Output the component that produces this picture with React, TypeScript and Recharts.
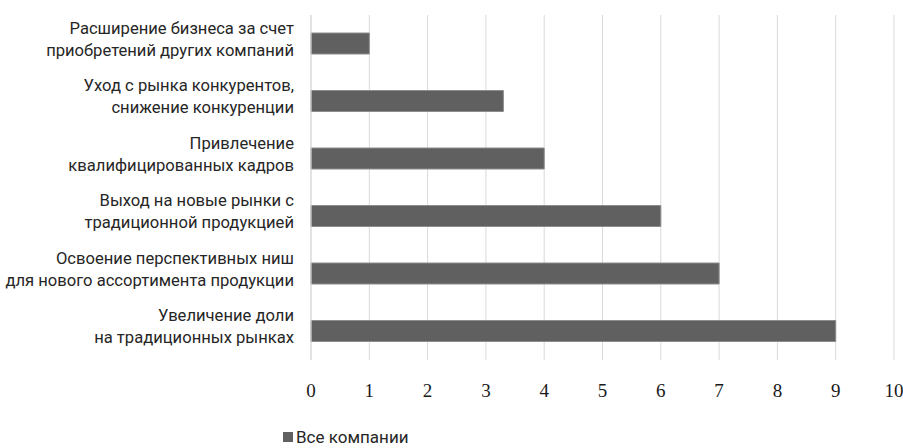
import React from 'react';
import { BarChart, Bar, XAxis, YAxis, CartesianGrid, Legend } from 'recharts';

const categories: string[][] = [
  ['Расширение бизнеса за счет', 'приобретений других компаний'],
  ['Уход с рынка конкурентов,', 'снижение конкуренции'],
  ['Привлечение', 'квалифицированных кадров'],
  ['Выход на новые рынки с', 'традиционной продукцией'],
  ['Освоение перспективных ниш', 'для нового ассортимента продукции'],
  ['Увеличение доли', 'на традиционных рынках'],
];
const values: number[] = [1, 3.3, 4, 6, 7, 9];
const xTicks: number[] = [0, 1, 2, 3, 4, 5, 6, 7, 8, 9, 10];
const seriesName = 'Все компании';

const data = categories.map((c, i) => ({ name: c.join('\n'), value: values[i] }));

const LABEL_FONT = 'Roboto, "Liberation Sans", sans-serif';

const YTick = (props: any) => {
  const { x, y, payload } = props;
  const lines = String(payload.value).split('\n');
  return (
    <text x={x - 9} y={y - 5} textAnchor="end" fontFamily={LABEL_FONT} fontSize={16.6} fill="#262626">
      {lines.map((l, i) => (
        <tspan key={i} x={x - 9} dy={i === 0 ? -5 : 22}>{l}</tspan>
      ))}
    </text>
  );
};

const LegendContent = () => (
  <div style={{ display: 'flex', alignItems: 'center', fontFamily: LABEL_FONT, fontSize: 17, color: '#262626', whiteSpace: 'nowrap' }}>
    <span style={{ display: 'inline-block', width: 10, height: 10, background: '#606060', marginRight: 3 }} />
    <span>{seriesName}</span>
  </div>
);

export default function App() {
  return (
    <div style={{ position: 'absolute', left: 0, top: 0 }}>
      <BarChart width={903} height={448} data={data} layout="vertical" margin={{ top: 15, right: 9, bottom: 48, left: 0 }}>
        <CartesianGrid horizontal={false} stroke="#d9d9d9" strokeWidth={1} />
        <XAxis type="number" domain={[0, 10]} ticks={xTicks} axisLine={false} tickLine={false} height={40}
          tick={{ fontFamily: '"Liberation Serif", serif', fontSize: 19, fill: '#1a1a1a' }} tickMargin={18} interval={0} />
        <YAxis type="category" dataKey="name" width={311} axisLine={{ stroke: '#d9d9d9' }} tickLine={false} tick={<YTick />} interval={0} />
        <Legend layout="horizontal" verticalAlign="middle" align="center" content={<LegendContent />}
          wrapperStyle={{ position: 'absolute', left: 283, top: 427, width: 'auto', height: 'auto' }} />
        <Bar dataKey="value" name={seriesName} fill="#606060" stroke="#8c8c8c" strokeWidth={1} barSize={21} isAnimationActive={false} />
      </BarChart>
    </div>
  );
}
